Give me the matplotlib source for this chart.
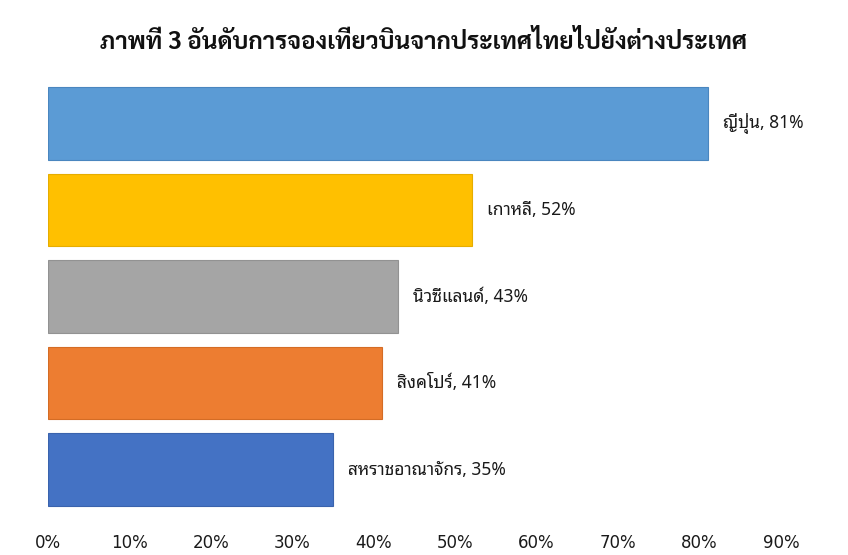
import matplotlib
matplotlib.use("Agg")
import matplotlib.pyplot as plt

# data
countries = ["ญี่ปุ่น", "เกาหลี", "นิวซีแลนด์", "สิงคโปร์", "สหราชอาณาจักร"]
shares = [81, 52, 43, 41, 35]
colors = ["#5B9BD5", "#FFC000", "#A5A5A5", "#ED7D31", "#4472C4"]
edges = ["#4A86BF", "#E6AD00", "#929292", "#D46C25", "#3A63AD"]
ticks = [0, 10, 20, 30, 40, 50, 60, 70, 80, 90]
title = "ภาพที่ 3 อันดับการจองเที่ยวบินจากประเทศไทยไปยังต่างประเทศ"

fig = plt.figure(figsize=(8.48, 5.55), dpi=100)
ax = fig.add_axes([48 / 848, 1 - 513 / 555, 733 / 848, 433 / 555])

pos = range(len(countries))
ax.barh(pos, shares, height=0.84, color=colors, edgecolor=edges, linewidth=0.8)
ax.set_ylim(len(countries) - 0.5, -0.5)
ax.set_xlim(0, 90)

for i, (c, v) in enumerate(zip(countries, shares)):
    ax.annotate(f"{c}, {v}%", xy=(v, i), xytext=(11, 0), textcoords="offset points",
                va="center", ha="left", fontsize=12.5, color="#1a1a1a",
                family=["Noto Sans Thai Looped", "DejaVu Sans"])

ax.set_xticks(ticks)
ax.set_xticklabels([f"{t}%" for t in ticks], fontsize=12, color="#1a1a1a",
                   family="DejaVu Sans")
ax.tick_params(axis="x", length=0, pad=15)
ax.set_yticks([])
for s in ax.spines.values():
    s.set_visible(False)

fig.text(0.5, 1 - 43 / 555, title, ha="center", va="center", fontsize=17.5,
         fontweight="bold", color="#111111", family=["Sarabun", "DejaVu Sans"])

fig.savefig("out.png", dpi=100)
